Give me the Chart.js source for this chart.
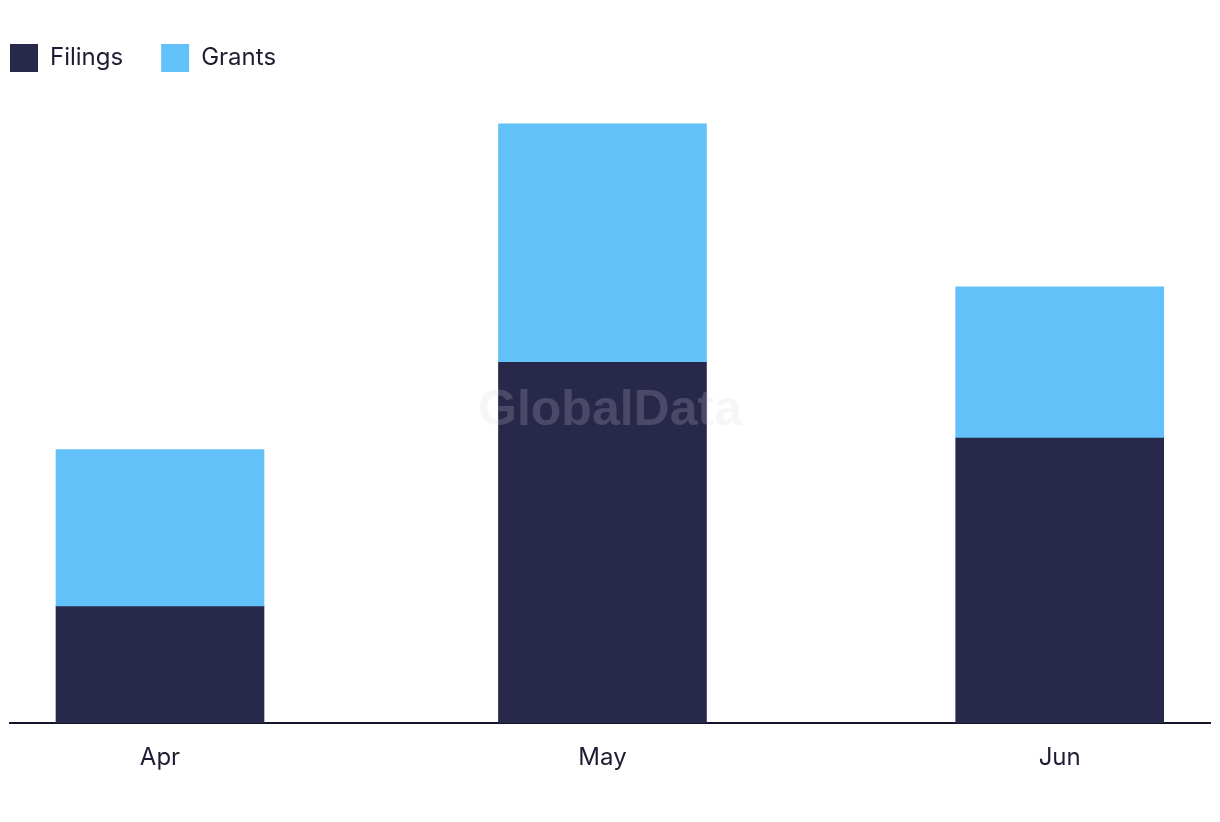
<!DOCTYPE html>
<html>
<head>
<meta charset="utf-8">
<script src="https://cdn.jsdelivr.net/npm/chart.js@4.4.1/dist/chart.umd.min.js"></script>
<style>
  html, body { margin: 0; padding: 0; background: #ffffff; }
  #wrap { width: 1220px; height: 822px; }
</style>
</head>
<body>
<div id="wrap"><canvas id="chart" width="1220" height="822"></canvas></div>
<script>
// months shown on the x axis (time axis, so spacing follows the calendar)
const monthLabels = ['Apr', 'May', 'Jun'];
const monthDates = ['2023-04-01', '2023-05-01', '2023-06-01'];

// stacked counts
const filings = [20, 62, 49];
const grants = [27, 41, 26];

const navy = '#28284b';
const sky = '#62c1f9';
const inkColor = '#1c1c33';
const fontFamily = 'Inter, "Noto Sans", sans-serif';

// day offsets from the first month so bars sit where a time axis puts them
const dayMs = 86400000;
const dayOffsets = monthDates.map(d => Math.round((Date.parse(d) - Date.parse(monthDates[0])) / dayMs));

function toPoints(values) {
    return values.map((v, i) => ({ x: dayOffsets[i], y: v }));
}

// faint watermark in the middle of the plot
const watermark = {
    id: 'watermark',
    afterDatasetsDraw(chart) {
        const { ctx, chartArea } = chart;
        ctx.save();
        ctx.font = 'bold 50px "Liberation Sans", Arial, sans-serif';
        ctx.fillStyle = 'rgba(210, 210, 222, 0.2)';
        ctx.textAlign = 'center';
        ctx.textBaseline = 'middle';
        ctx.fillText('GlobalData', (chartArea.left + chartArea.right) / 2, 411);
        ctx.restore();
    }
};

const ctx = document.getElementById('chart').getContext('2d');
const myChart = new Chart(ctx, {
    type: 'bar',
    data: {
        datasets: [
            { label: 'Filings', data: toPoints(filings), backgroundColor: navy, barThickness: 208 },
            { label: 'Grants', data: toPoints(grants), backgroundColor: sky, barThickness: 208 }
        ]
    },
    options: {
        responsive: false,
        animation: false,
        layout: { padding: { left: -28, right: 10, top: 6, bottom: 39 } },
        plugins: {
            tooltip: { enabled: false },
            legend: {
                position: 'top',
                align: 'start',
                labels: {
                    boxWidth: 28,
                    boxHeight: 28,
                    padding: 38,
                    color: inkColor,
                    font: { family: fontFamily, size: 24 }
                }
            }
        },
        scales: {
            x: {
                type: 'linear',
                stacked: true,
                offset: false,
                min: -10.17,
                max: 71.19,
                grid: { display: false },
                border: { display: true, color: '#15152a', width: 2 },
                afterBuildTicks(scale) {
                    scale.ticks = dayOffsets.map(v => ({ value: v }));
                },
                afterFit(scale) { scale.height = 60; },
                ticks: {
                    padding: 12,
                    color: inkColor,
                    font: { family: fontFamily, size: 24 },
                    maxRotation: 0,
                    callback: (value, index) => monthLabels[index]
                }
            },
            y: {
                stacked: true,
                min: 0,
                max: 110.2,
                grid: { display: false },
                border: { display: false },
                ticks: { display: false },
                afterFit(scale) { scale.width = 38; }
            }
        }
    },
    plugins: [watermark]
});
</script>
</body>
</html>
